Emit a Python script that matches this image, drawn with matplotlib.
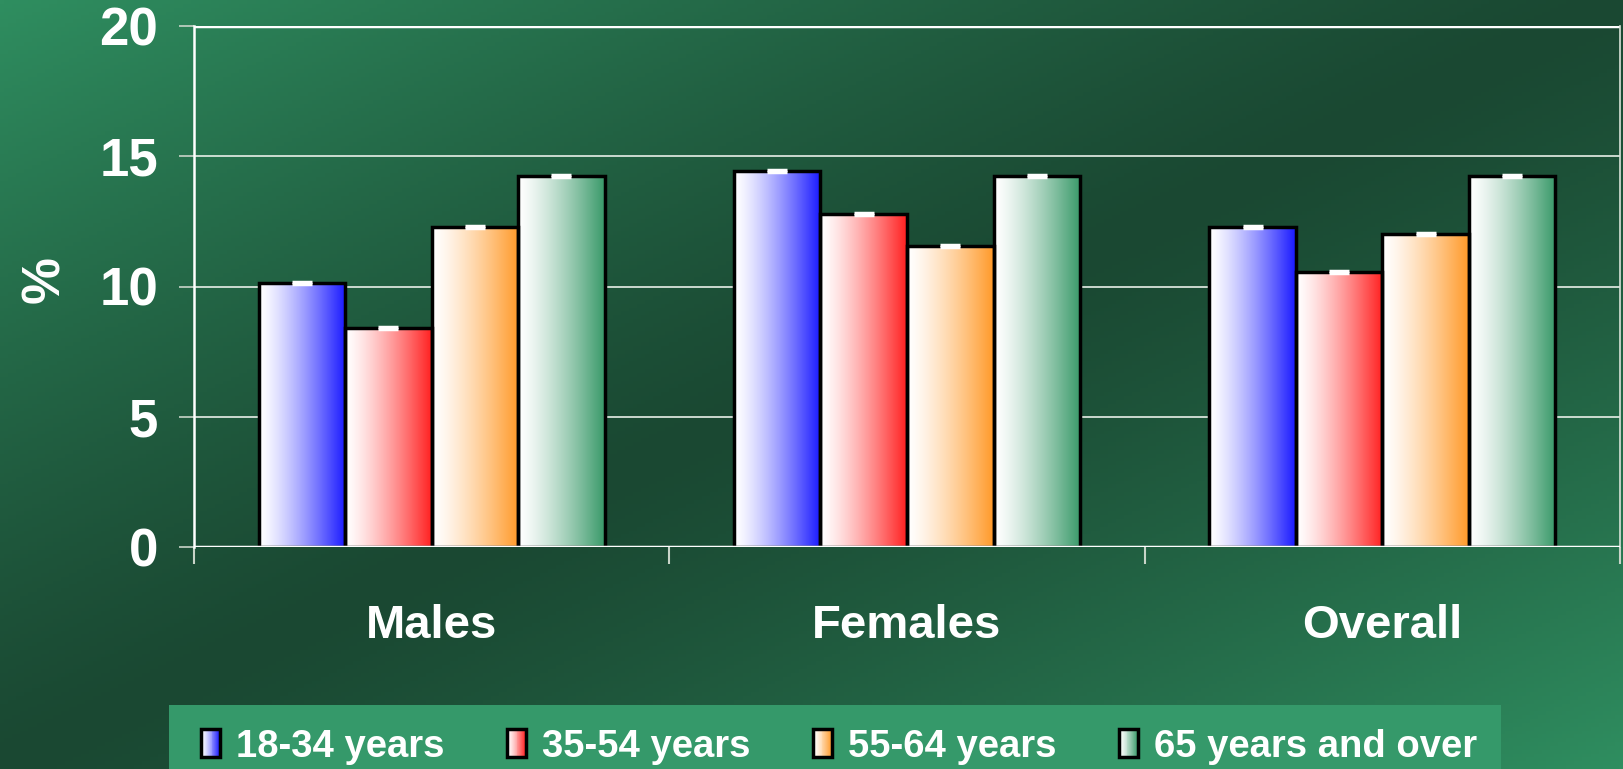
import numpy as np
import matplotlib
matplotlib.use("Agg")
import matplotlib.pyplot as plt
from matplotlib.colors import to_rgb
from matplotlib.patches import Rectangle
from matplotlib.legend_handler import HandlerBase

plt.rcParams['font.family'] = ['Liberation Sans', 'DejaVu Sans']
plt.rcParams['font.weight'] = 'bold'

groups = ['Males', 'Females', 'Overall']
age_groups = ['18-34 years', '35-54 years', '55-64 years', '65 years and over']
v_18_34 = [10.15, 14.45, 12.3]
v_35_54 = [8.4, 12.8, 10.55]
v_55_64 = [12.3, 11.55, 12.0]
v_65_up = [14.25, 14.25, 14.25]
err = [0.04, 0.04, 0.04]
bar_colors = ['#1a1aff', '#ff2222', '#ff9a2a', '#3a9a6a']

series = [v_18_34, v_35_54, v_55_64, v_65_up]


def gradient_img(color, n=64):
    # white on the left, full colour on the right
    t = np.linspace(0, 1, n) ** 1.3
    c = np.array(to_rgb(color))
    row = (1 - t)[:, None] * np.ones(3) + t[:, None] * c
    return row[None, :, :]


class GradientHandler(HandlerBase):
    def __init__(self, color):
        super().__init__()
        self.color = color

    def create_artists(self, legend, orig_handle, xdescent, ydescent,
                       width, height, fontsize, trans):
        arts = []
        n = 20
        img = gradient_img(self.color, n)[0]
        for i in range(n):
            r = Rectangle((-xdescent + width * i / n, -ydescent), width / n + 0.3, height,
                          facecolor=img[i], edgecolor='none', transform=trans)
            arts.append(r)
        arts.append(Rectangle((-xdescent, -ydescent), width, height, facecolor='none',
                              edgecolor='black', lw=2.5, transform=trans))
        return arts


W, H = 1623, 769
fig = plt.figure(figsize=(W / 100, H / 100), dpi=100)

# background gradient: light in top-left / bottom-right corners, dark on the diagonal
bg = fig.add_axes([0, 0, 1, 1], zorder=-5)
yy, xx = np.mgrid[0:1:200j, 0:1:400j]
u = (np.abs((xx + yy) / 2 - 0.5) * 2) ** 1.25
light = np.array(to_rgb('#2f8e60'))
dark = np.array(to_rgb('#1a4832'))
rgb = dark + (light - dark) * u[..., None]
bg.imshow(rgb, aspect='auto', extent=(0, 1, 0, 1), origin='upper')
bg.axis('off')

# legend background box
fig.patches.append(Rectangle((169 / W, 0), (1501 - 169) / W, (769 - 705) / H,
                             transform=fig.transFigure, facecolor='#35996a',
                             edgecolor='none', zorder=-4))

ax = fig.add_axes([194 / W, 1 - 547 / H, (1620 - 194) / W, (547 - 26) / H])
ax.set_facecolor('none')

x = np.arange(len(groups))
width = 0.182
offsets = (np.arange(4) - 1.5) * width

for vals, col, off in zip(series, bar_colors, offsets):
    bars = ax.bar(x + off, vals, width, facecolor='none', edgecolor='black',
                  linewidth=2.5, zorder=4)
    for b in bars:
        ax.imshow(gradient_img(col), extent=(b.get_x(), b.get_x() + b.get_width(), 0, b.get_height()),
                  aspect='auto', zorder=3, interpolation='bilinear')
    ax.errorbar(x + off, vals, yerr=err, fmt='none', ecolor='white', elinewidth=1.5,
                capsize=7, capthick=2.5, zorder=5)

ax.set_xlim(-0.5, 2.5)
ax.set_ylim(0, 20)
ax.set_yticks([0, 5, 10, 15, 20])
ax.grid(axis='y', color='#e8efe8', linewidth=1.2, zorder=1)
ax.set_axisbelow(True)
ax.axhline(20, color='white', linewidth=2.5, zorder=2)
ax.axhline(0, color='white', linewidth=2.5, zorder=6)

for s in ['top', 'bottom']:
    ax.spines[s].set_visible(False)
ax.spines['left'].set_color('white')
ax.spines['left'].set_linewidth(1.8)
ax.spines['right'].set_color('#d8e2d8')
ax.spines['right'].set_linewidth(1.2)

ax.set_xticks(x)
ax.set_xticklabels(groups)
ax.set_xticks([-0.5, 0.5, 1.5, 2.5], minor=True)
ax.tick_params(axis='x', which='major', length=0, pad=41, labelsize=34, labelcolor='white')
ax.tick_params(axis='x', which='minor', length=12, width=1.5, color='#c8d4c8', direction='out')
ax.tick_params(axis='y', length=11, width=1.2, color='#c8d4c8', pad=15, labelsize=38,
               labelcolor='white')

ax.set_ylabel('%', color='white', fontsize=38, fontweight='bold')
ax.yaxis.set_label_coords(-0.087, 0.514)

handles = [Rectangle((0, 0), 1, 1) for _ in age_groups]
leg = fig.legend(handles, age_groups, loc='center', bbox_to_anchor=(0.517, 0.029),
                 ncol=4, frameon=False, labelcolor='white',
                 prop={'weight': 'bold', 'size': 27.5},
                 handlelength=0.48, handleheight=0.75, handletextpad=0.42, columnspacing=1.65,
                 handler_map={h: GradientHandler(c) for h, c in zip(handles, bar_colors)})

fig.savefig('out.png', dpi=100)
